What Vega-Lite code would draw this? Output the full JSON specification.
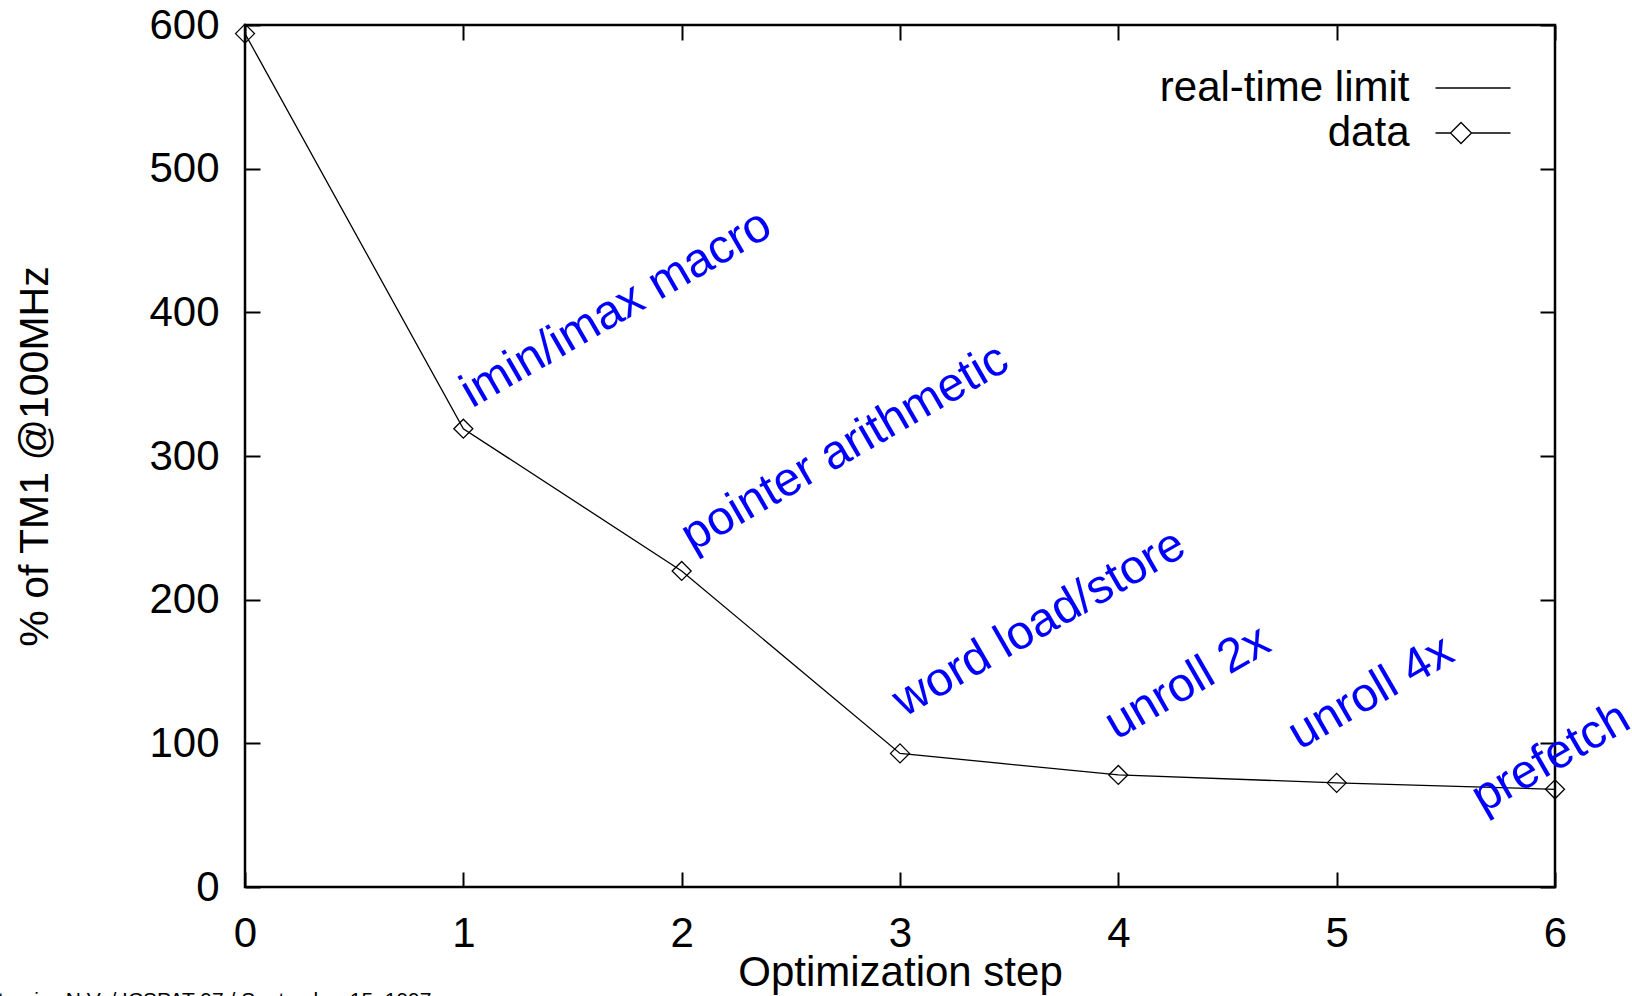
{
  "$schema": "https://vega.github.io/schema/vega-lite/v6.json",
  "width": 1310,
  "height": 862,
  "autosize": {"type": "none"},
  "padding": {"left": 245, "top": 25, "right": 77, "bottom": 109},
  "background": "white",
  "config": {
    "font": "Liberation Sans",
    "view": {"stroke": "black", "strokeWidth": 2.5},
    "axis": {
      "grid": false,
      "domain": false,
      "tickSize": -15,
      "tickWidth": 2,
      "tickColor": "black",
      "labelFont": "Liberation Sans",
      "labelFontSize": 42,
      "labelColor": "black",
      "labelPadding": 41,
      "labelFlush": false,
      "labelOverlap": false,
      "titleFont": "Liberation Sans",
      "titleFontSize": 42,
      "titleFontWeight": "normal",
      "titleColor": "black"
    },
    "legend": {
      "orient": "top-right",
      "offset": 41,
      "padding": 0,
      "labelFont": "Liberation Sans",
      "labelFontSize": 42,
      "labelColor": "black",
      "labelAlign": "right",
      "labelOffset": -85.5,
      "symbolSize": 1764,
      "rowPadding": 2,
      "labelLimit": 600
    }
  },
  "title": {
    "text": "tronics N.V. / ICSPAT 97 / September 15, 1997",
    "orient": "bottom",
    "anchor": "start",
    "frame": "group",
    "dx": -247,
    "offset": -3,
    "fontSize": 21,
    "font": "Liberation Sans",
    "fontWeight": "normal",
    "color": "black"
  },
  "datasets": {
    "steps": [
      {"step": 0, "value": 594},
      {"step": 1, "value": 319},
      {"step": 2, "value": 220},
      {"step": 3, "value": 93},
      {"step": 4, "value": 78},
      {"step": 5, "value": 72.5},
      {"step": 6, "value": 68}
    ],
    "notes": [
      {"step": 1.04, "value": 333, "label": "imin/imax macro"},
      {"step": 2.05, "value": 233, "label": "pointer arithmetic"},
      {"step": 3.02, "value": 118, "label": "word load/store"},
      {"step": 3.99, "value": 102, "label": "unroll 2x"},
      {"step": 4.83, "value": 95, "label": "unroll 4x"},
      {"step": 5.67, "value": 51, "label": "prefetch"}
    ]
  },
  "layer": [
    {
      "data": {"name": "steps"},
      "mark": {"type": "line", "strokeWidth": 1.3},
      "encoding": {
        "x": {
          "field": "step",
          "type": "quantitative",
          "scale": {"domain": [0, 6], "nice": false, "zero": false},
          "axis": {"orient": "bottom", "values": [0, 1, 2, 3, 4, 5, 6], "format": "d", "title": "Optimization step", "titlePadding": -2}
        },
        "y": {
          "field": "value",
          "type": "quantitative",
          "scale": {"domain": [0, 600], "nice": false},
          "axis": {"orient": "left", "values": [0, 100, 200, 300, 400, 500, 600], "format": "d", "title": "% of TM1 @100MHz", "titlePadding": 92, "titleFontSize": 41}
        },
        "color": {
          "datum": "data",
          "scale": {"domain": ["real-time limit", "data"], "range": ["black", "black"]},
          "legend": {
            "title": null,
            "encode": {
              "symbols": {
                "update": {
                  "shape": {"signal": "datum.value === 'data' ? 'M-1.786,0H-1.071M-0.071,0H1.786M-1.071,0L-0.571,-0.5L-0.071,0L-0.571,0.5Z' : 'M-1.786,0H1.786'"},
                  "stroke": {"value": "black"},
                  "fill": {"value": "white"},
                  "strokeWidth": {"value": 1.3}
                }
              }
            }
          }
        }
      }
    },
    {
      "data": {"name": "steps"},
      "mark": {"type": "point", "shape": "diamond", "filled": false, "stroke": "black", "strokeWidth": 1.3, "size": 361, "opacity": 1},
      "encoding": {
        "x": {"field": "step", "type": "quantitative", "axis": {"orient": "top", "values": [0, 1, 2, 3, 4, 5, 6], "labels": false, "title": null}},
        "y": {"field": "value", "type": "quantitative", "axis": {"orient": "right", "values": [0, 100, 200, 300, 400, 500, 600], "labels": false, "title": null}}
      }
    },
    {
      "mark": {"type": "rule", "strokeWidth": 1.3},
      "encoding": {
        "y": {"datum": 100, "type": "quantitative", "axis": null},
        "color": {"datum": "real-time limit"}
      }
    },
    {
      "data": {"name": "notes"},
      "mark": {"type": "text", "align": "left", "baseline": "alphabetic", "angle": -30, "fontSize": 48, "font": "Liberation Sans", "color": "#0000ff"},
      "encoding": {
        "x": {"field": "step", "type": "quantitative", "axis": null},
        "y": {"field": "value", "type": "quantitative", "axis": null},
        "text": {"field": "label"}
      }
    }
  ],
  "resolve": {"axis": {"x": "independent", "y": "independent"}}
}
